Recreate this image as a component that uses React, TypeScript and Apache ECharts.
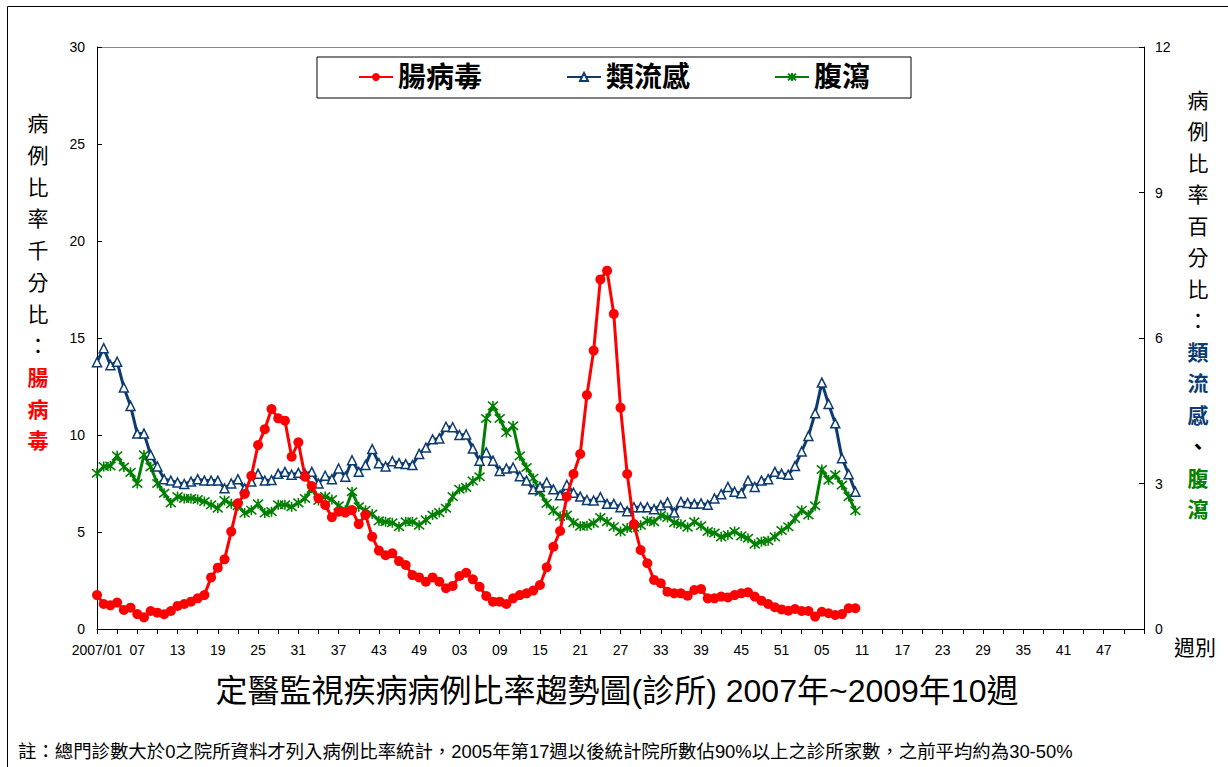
import React, { useEffect, useRef } from 'react';
import * as echarts from 'echarts';

// ---- Data (rates per week, 2007 week 1 .. 2009 week 10) ----
const years = [2007, 2008, 2009];
const weeksPerYear = [52, 52, 53];

// 腸病毒 (left axis, ‰)
const enterovirus = [
  1.75, 1.29, 1.22, 1.36, 0.98, 1.10, 0.77, 0.60, 0.93, 0.84,
  0.76, 0.93, 1.19, 1.29, 1.41, 1.58, 1.75, 2.66, 3.16, 3.59,
  5.02, 6.48, 6.96, 7.90, 9.48, 10.30, 11.34, 10.86, 10.74, 8.88,
  9.62, 7.85, 7.37, 6.74, 6.39, 5.76, 6.05, 6.00, 6.13, 5.41,
  5.88, 4.76, 4.04, 3.80, 3.90, 3.50, 3.30, 2.78, 2.66, 2.44,
  2.66, 2.44, 2.10, 2.22, 2.73, 2.90, 2.56, 2.18, 1.70, 1.41,
  1.41, 1.29, 1.58, 1.75, 1.84, 1.98, 2.27, 3.18, 4.24, 5.05,
  6.82, 7.99, 9.02, 12.06, 14.35, 18.02, 18.47, 16.24, 11.41, 7.99,
  5.41, 4.07, 3.39, 2.53, 2.36, 1.92, 1.84, 1.84, 1.72, 2.01,
  2.06, 1.58, 1.58, 1.67, 1.63, 1.75, 1.84, 1.89, 1.67, 1.46,
  1.29, 1.12, 1.01, 0.94, 1.03, 0.93, 0.93, 0.64, 0.89, 0.81,
  0.72, 0.77, 1.07, 1.07,
];

// 類流感 (right axis, %)
const influenza = [
  5.50, 5.79, 5.44, 5.51, 4.98, 4.60, 4.03, 4.03, 3.59, 3.35,
  3.09, 3.06, 3.02, 2.99, 3.04, 3.09, 3.06, 3.06, 3.06, 2.90,
  3.00, 3.09, 2.90, 3.04, 3.20, 3.06, 3.07, 3.20, 3.24, 3.18,
  3.22, 3.20, 3.24, 3.00, 3.16, 3.09, 3.31, 3.14, 3.48, 3.24,
  3.38, 3.71, 3.42, 3.35, 3.46, 3.42, 3.40, 3.38, 3.61, 3.74,
  3.91, 3.93, 4.17, 4.16, 4.00, 4.01, 3.72, 3.47, 3.64, 3.47,
  3.26, 3.31, 3.33, 3.15, 3.06, 2.88, 2.93, 3.02, 2.88, 2.76,
  2.97, 2.81, 2.73, 2.66, 2.65, 2.72, 2.58, 2.58, 2.51, 2.43,
  2.51, 2.51, 2.51, 2.47, 2.55, 2.61, 2.40, 2.62, 2.60, 2.58,
  2.59, 2.56, 2.69, 2.78, 2.93, 2.83, 2.80, 3.06, 2.93, 3.06,
  3.09, 3.24, 3.20, 3.18, 3.36, 3.66, 3.98, 4.45, 5.08, 4.64,
  4.24, 3.52, 3.19, 2.83,
];

// 腹瀉 (right axis, %)
const diarrhea = [
  3.21, 3.35, 3.36, 3.57, 3.34, 3.23, 3.00, 3.59, 3.34, 3.00,
  2.80, 2.60, 2.73, 2.69, 2.69, 2.67, 2.63, 2.56, 2.49, 2.65,
  2.58, 2.54, 2.39, 2.45, 2.58, 2.39, 2.42, 2.56, 2.56, 2.52,
  2.60, 2.69, 2.90, 2.65, 2.73, 2.67, 2.54, 2.45, 2.83, 2.52,
  2.45, 2.37, 2.23, 2.21, 2.19, 2.11, 2.21, 2.21, 2.14, 2.25,
  2.35, 2.40, 2.49, 2.73, 2.88, 2.92, 3.05, 3.14, 4.34, 4.60,
  4.34, 4.05, 4.19, 3.57, 3.33, 3.11, 2.83, 2.59, 2.44, 2.32,
  2.35, 2.19, 2.12, 2.13, 2.18, 2.30, 2.21, 2.11, 2.01, 2.08,
  2.10, 2.14, 2.23, 2.21, 2.34, 2.30, 2.19, 2.16, 2.10, 2.21,
  2.13, 2.01, 1.98, 1.90, 1.94, 2.01, 1.92, 1.87, 1.75, 1.80,
  1.82, 1.90, 2.03, 2.11, 2.28, 2.45, 2.35, 2.54, 3.29, 3.07,
  3.18, 2.97, 2.73, 2.44,
];

const leftTicks = { min: 0, max: 30, interval: 5 };
const rightTicks = { min: 0, max: 12, interval: 3 };

// category labels: 2007/01, 02, 03 ... (week numbers)
const categories: string[] = [];
years.forEach((y, yi) => {
  for (let w = 1; w <= weeksPerYear[yi]; w++) {
    const ww = w < 10 ? '0' + w : String(w);
    categories.push(yi === 0 && w === 1 ? `${y}/${ww}` : ww);
  }
});

const RED = '#ff0000';
const NAVY = '#0b3b70';
const GREEN = '#008000';
const LATIN = "'Liberation Sans', Arial, sans-serif";
const CJK = "'Liberation Sans', 'Noto Sans CJK TC', sans-serif";

const vText = (s: string) => s.split('').join('\n');

export default function App() {
  const ref = useRef<HTMLDivElement>(null);
  useEffect(() => {
    const chart = echarts.init(ref.current!, null, { renderer: 'svg' });
    const lastIdx = categories.length - 1;
    const option: any = {
      animation: false,
      backgroundColor: '#fff',
      grid: { left: 97, right: 84, top: 47, height: 582, containLabel: false },
      legend: {
        left: 317,
        top: 57,
        data: ['腸病毒', '類流感', '腹瀉'],
        itemWidth: 34,
        itemHeight: 10,
        itemGap: 84,
        padding: [5, 41, 6, 41],
        borderColor: '#000',
        borderWidth: 1,
        backgroundColor: '#fff',
        textStyle: { fontSize: 28, fontWeight: 'bold', color: '#000', fontFamily: CJK, lineHeight: 30 },
      },
      xAxis: {
        type: 'category',
        data: categories,
        boundaryGap: false,
        axisLine: { lineStyle: { color: '#000', width: 1 } },
        axisTick: { interval: 2, length: 5, lineStyle: { color: '#000' } },
        axisLabel: {
          interval: (i: number) => i % 6 === 0 && i < lastIdx,
          color: '#000',
          fontSize: 14,
          fontFamily: LATIN,
          margin: 14,
        },
        splitLine: { show: false },
      },
      yAxis: [
        {
          type: 'value',
          ...leftTicks,
          position: 'left',
          axisLine: { show: true, lineStyle: { color: '#000' } },
          axisTick: { show: true, inside: true, length: 5, lineStyle: { color: '#000' } },
          axisLabel: { color: '#000', fontSize: 14, fontFamily: LATIN, margin: 12 },
          splitLine: { show: false },
        },
        {
          type: 'value',
          ...rightTicks,
          position: 'right',
          axisLine: { show: true, lineStyle: { color: '#000' } },
          axisTick: { show: true, inside: true, length: 5, lineStyle: { color: '#000' } },
          axisLabel: { color: '#000', fontSize: 14, fontFamily: LATIN, margin: 11 },
          splitLine: { show: false },
        },
      ],
      series: [
        {
          name: '腹瀉',
          type: 'line',
          yAxisIndex: 1,
          data: diarrhea,
          showAllSymbol: true,
          symbol: 'path://M0 0L10 10M10 0L0 10M5 -1L5 11',
          symbolSize: 10,
          lineStyle: { color: GREEN, width: 3 },
          itemStyle: { color: GREEN, borderColor: GREEN, borderWidth: 1.6 },
          z: 2,
        },
        {
          name: '類流感',
          type: 'line',
          yAxisIndex: 1,
          data: influenza,
          showAllSymbol: true,
          symbol: 'triangle',
          symbolSize: 9,
          lineStyle: { color: NAVY, width: 3 },
          itemStyle: { color: '#fff', borderColor: NAVY, borderWidth: 1.5 },
          z: 3,
        },
        {
          name: '腸病毒',
          type: 'line',
          yAxisIndex: 0,
          data: enterovirus,
          showAllSymbol: true,
          symbol: 'circle',
          symbolSize: 10,
          lineStyle: { color: RED, width: 3 },
          itemStyle: { color: RED },
          z: 4,
        },
      ],
      graphic: [
        {
          type: 'rect',
          silent: true,
          shape: { x: 7.5, y: 6.5, width: 1300, height: 900 },
          style: { fill: 'none', stroke: '#000', lineWidth: 1 },
        },
        {
          type: 'line',
          silent: true,
          shape: { x1: 97, y1: 47.5, x2: 1144, y2: 47.5 },
          style: { stroke: '#888', lineWidth: 1 },
        },
        // left axis name
        {
          type: 'text',
          style: { x: 38, y: 108, text: vText('病例比率千分比：'), fill: '#000', font: `21px ${CJK}`, lineHeight: 31.7, align: 'center', verticalAlign: 'top' },
        },
        {
          type: 'text',
          style: { x: 38, y: 361.6, text: vText('腸病毒'), fill: RED, font: `bold 21px ${CJK}`, lineHeight: 31.7, align: 'center', verticalAlign: 'top' },
        },
        // right axis name
        {
          type: 'text',
          style: { x: 1198, y: 84.5, text: vText('病例比率百分比：'), fill: '#000', font: `21px ${CJK}`, lineHeight: 31.5, align: 'center', verticalAlign: 'top' },
        },
        {
          type: 'text',
          style: { x: 1198, y: 336.5, text: vText('類流感'), fill: NAVY, font: `bold 21px ${CJK}`, lineHeight: 31.5, align: 'center', verticalAlign: 'top' },
        },
        {
          type: 'text',
          style: { x: 1198, y: 431, text: '、', fill: '#000', font: `bold 21px ${CJK}`, lineHeight: 31.5, align: 'center', verticalAlign: 'top' },
        },
        {
          type: 'text',
          style: { x: 1198, y: 462.5, text: vText('腹瀉'), fill: GREEN, font: `bold 21px ${CJK}`, lineHeight: 31.5, align: 'center', verticalAlign: 'top' },
        },
        // x axis name
        {
          type: 'text',
          style: { x: 1195, y: 647, text: '週別', fill: '#000', font: `21px ${CJK}`, align: 'center', verticalAlign: 'middle' },
        },
        // title
        {
          type: 'text',
          style: { x: 617, y: 691, text: '定醫監視疾病病例比率趨勢圖(診所) 2007年~2009年10週', fill: '#000', font: `32px ${CJK}`, align: 'center', verticalAlign: 'middle' },
        },
        // footnote
        {
          type: 'text',
          style: { x: 18, y: 751, text: '註：總門診數大於0之院所資料才列入病例比率統計，2005年第17週以後統計院所數佔90%以上之診所家數，之前平均約為30-50%', fill: '#000', font: `18.4px ${CJK}`, align: 'left', verticalAlign: 'middle' },
        },
      ],
    };
    chart.setOption(option);
    return () => chart.dispose();
  }, []);
  return (
    <div
      ref={ref}
      style={{ position: 'absolute', left: 0, top: 0, width: 1228, height: 767, background: '#fff' }}
    />
  );
}
